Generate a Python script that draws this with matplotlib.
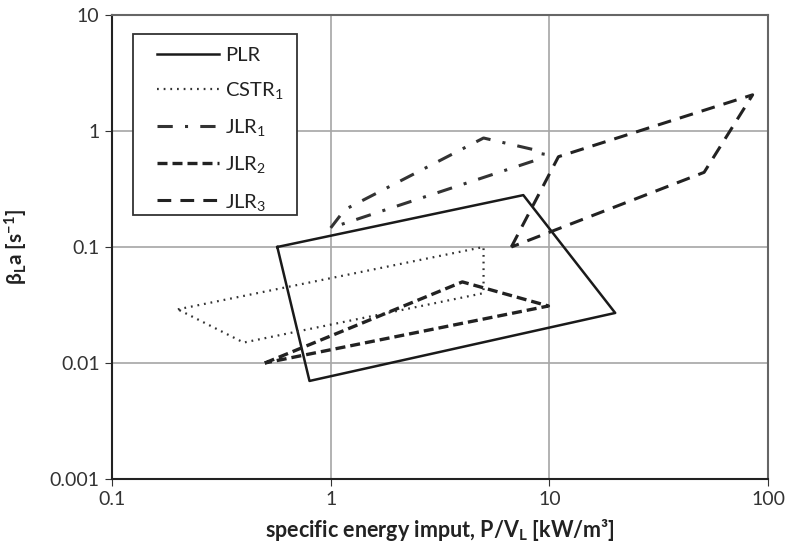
import matplotlib
matplotlib.use('Agg')
import matplotlib.pyplot as plt
from matplotlib.patches import Rectangle

plt.rcParams['font.family'] = ['Lato', 'DejaVu Sans']
plt.rcParams['mathtext.fontset'] = 'custom'
plt.rcParams['mathtext.rm'] = 'Lato'
plt.rcParams['mathtext.it'] = 'Lato'
plt.rcParams['mathtext.bf'] = 'Lato:bold'

# polygon outlines (closed shapes)
plr_x = [0.57, 7.6, 20, 0.8, 0.57]
plr_y = [0.1, 0.28, 0.027, 0.007, 0.1]

cstr_x = [0.2, 5, 5, 0.4, 0.2]
cstr_y = [0.029, 0.1, 0.04, 0.015, 0.029]

jlr1_x = [1.0, 1.16, 5, 9.4, 9.3, 1.0]
jlr1_y = [0.146, 0.21, 0.87, 0.66, 0.585, 0.146]

jlr2_x = [0.5, 4, 9.9, 0.5]
jlr2_y = [0.01, 0.05, 0.031, 0.01]

jlr3_x = [6.7, 11, 85, 51, 6.7]
jlr3_y = [0.1, 0.6, 2.05, 0.44, 0.1]

labels = ['PLR', 'CSTR$_1$', 'JLR$_1$', 'JLR$_2$', 'JLR$_3$']


def main():
    fig = plt.figure(figsize=(7.91, 5.51), dpi=100)
    ax = fig.add_axes([0.1416, 0.1307, 0.8294, 0.8421])

    ax.plot(plr_x, plr_y, color='#1a1a1a', lw=1.8, ls='-', label=labels[0])
    ax.plot(cstr_x, cstr_y, color='#333333', lw=1.6, ls=(0, (0.8, 2.2)), label=labels[1])
    ax.plot(jlr1_x, jlr1_y, color='#333333', lw=2.2, ls=(0, (5, 4, 1, 4)), label=labels[2])
    ax.plot(jlr2_x, jlr2_y, color='#222222', lw=2.4, ls=(0, (3, 1.5)), label=labels[3])
    ax.plot(jlr3_x, jlr3_y, color='#222222', lw=2.2, ls=(0, (4.5, 3)), label=labels[4])

    ax.set_xscale('log')
    ax.set_yscale('log')
    ax.set_xlim(0.1, 100)
    ax.set_ylim(0.001, 10)
    ax.set_xticks([0.1, 1, 10, 100])
    ax.set_xticklabels(['0.1', '1', '10', '100'])
    ax.set_yticks([0.001, 0.01, 0.1, 1, 10])
    ax.set_yticklabels(['0.001', '0.01', '0.1', '1', '10'])
    ax.minorticks_off()
    ax.tick_params(axis='both', which='major', direction='out', length=5,
                   labelsize=14, colors='#333333', pad=4)
    ax.grid(True, color='#a6a6a6', lw=1.2)
    ax.set_axisbelow(True)

    for side in ['left', 'bottom']:
        ax.spines[side].set_color('#222222')
        ax.spines[side].set_linewidth(1.5)
    for side in ['top', 'right']:
        ax.spines[side].set_color('#666666')
        ax.spines[side].set_linewidth(1.5)

    ax.set_xlabel('specific energy imput, P/V$_\\mathbf{L}$ [kW/m³]',
                  fontsize=15.5, fontweight='bold', color='#222222', labelpad=6)
    ax.set_ylabel('β$_\\mathbf{L}$a [s$^\\mathbf{-1}$]',
                  fontsize=15, fontweight='bold', color='#222222', labelpad=14)

    leg = ax.legend(loc='upper left', bbox_to_anchor=(0.0686, 0.931), fontsize=14.5,
                    frameon=False, handlelength=3.1, handletextpad=0.3,
                    labelspacing=0.8, borderpad=0, borderaxespad=0)
    for t in leg.get_texts():
        t.set_color('#222222')
    # legend box drawn separately (wider side padding than matplotlib allows)
    ax.add_patch(Rectangle((0.032, 0.569), 0.25, 0.39, transform=ax.transAxes,
                           fill=True, facecolor='white', edgecolor='#333333',
                           lw=1.3, zorder=4.5))

    fig.savefig('out.png', dpi=100)


if __name__ == '__main__':
    main()
